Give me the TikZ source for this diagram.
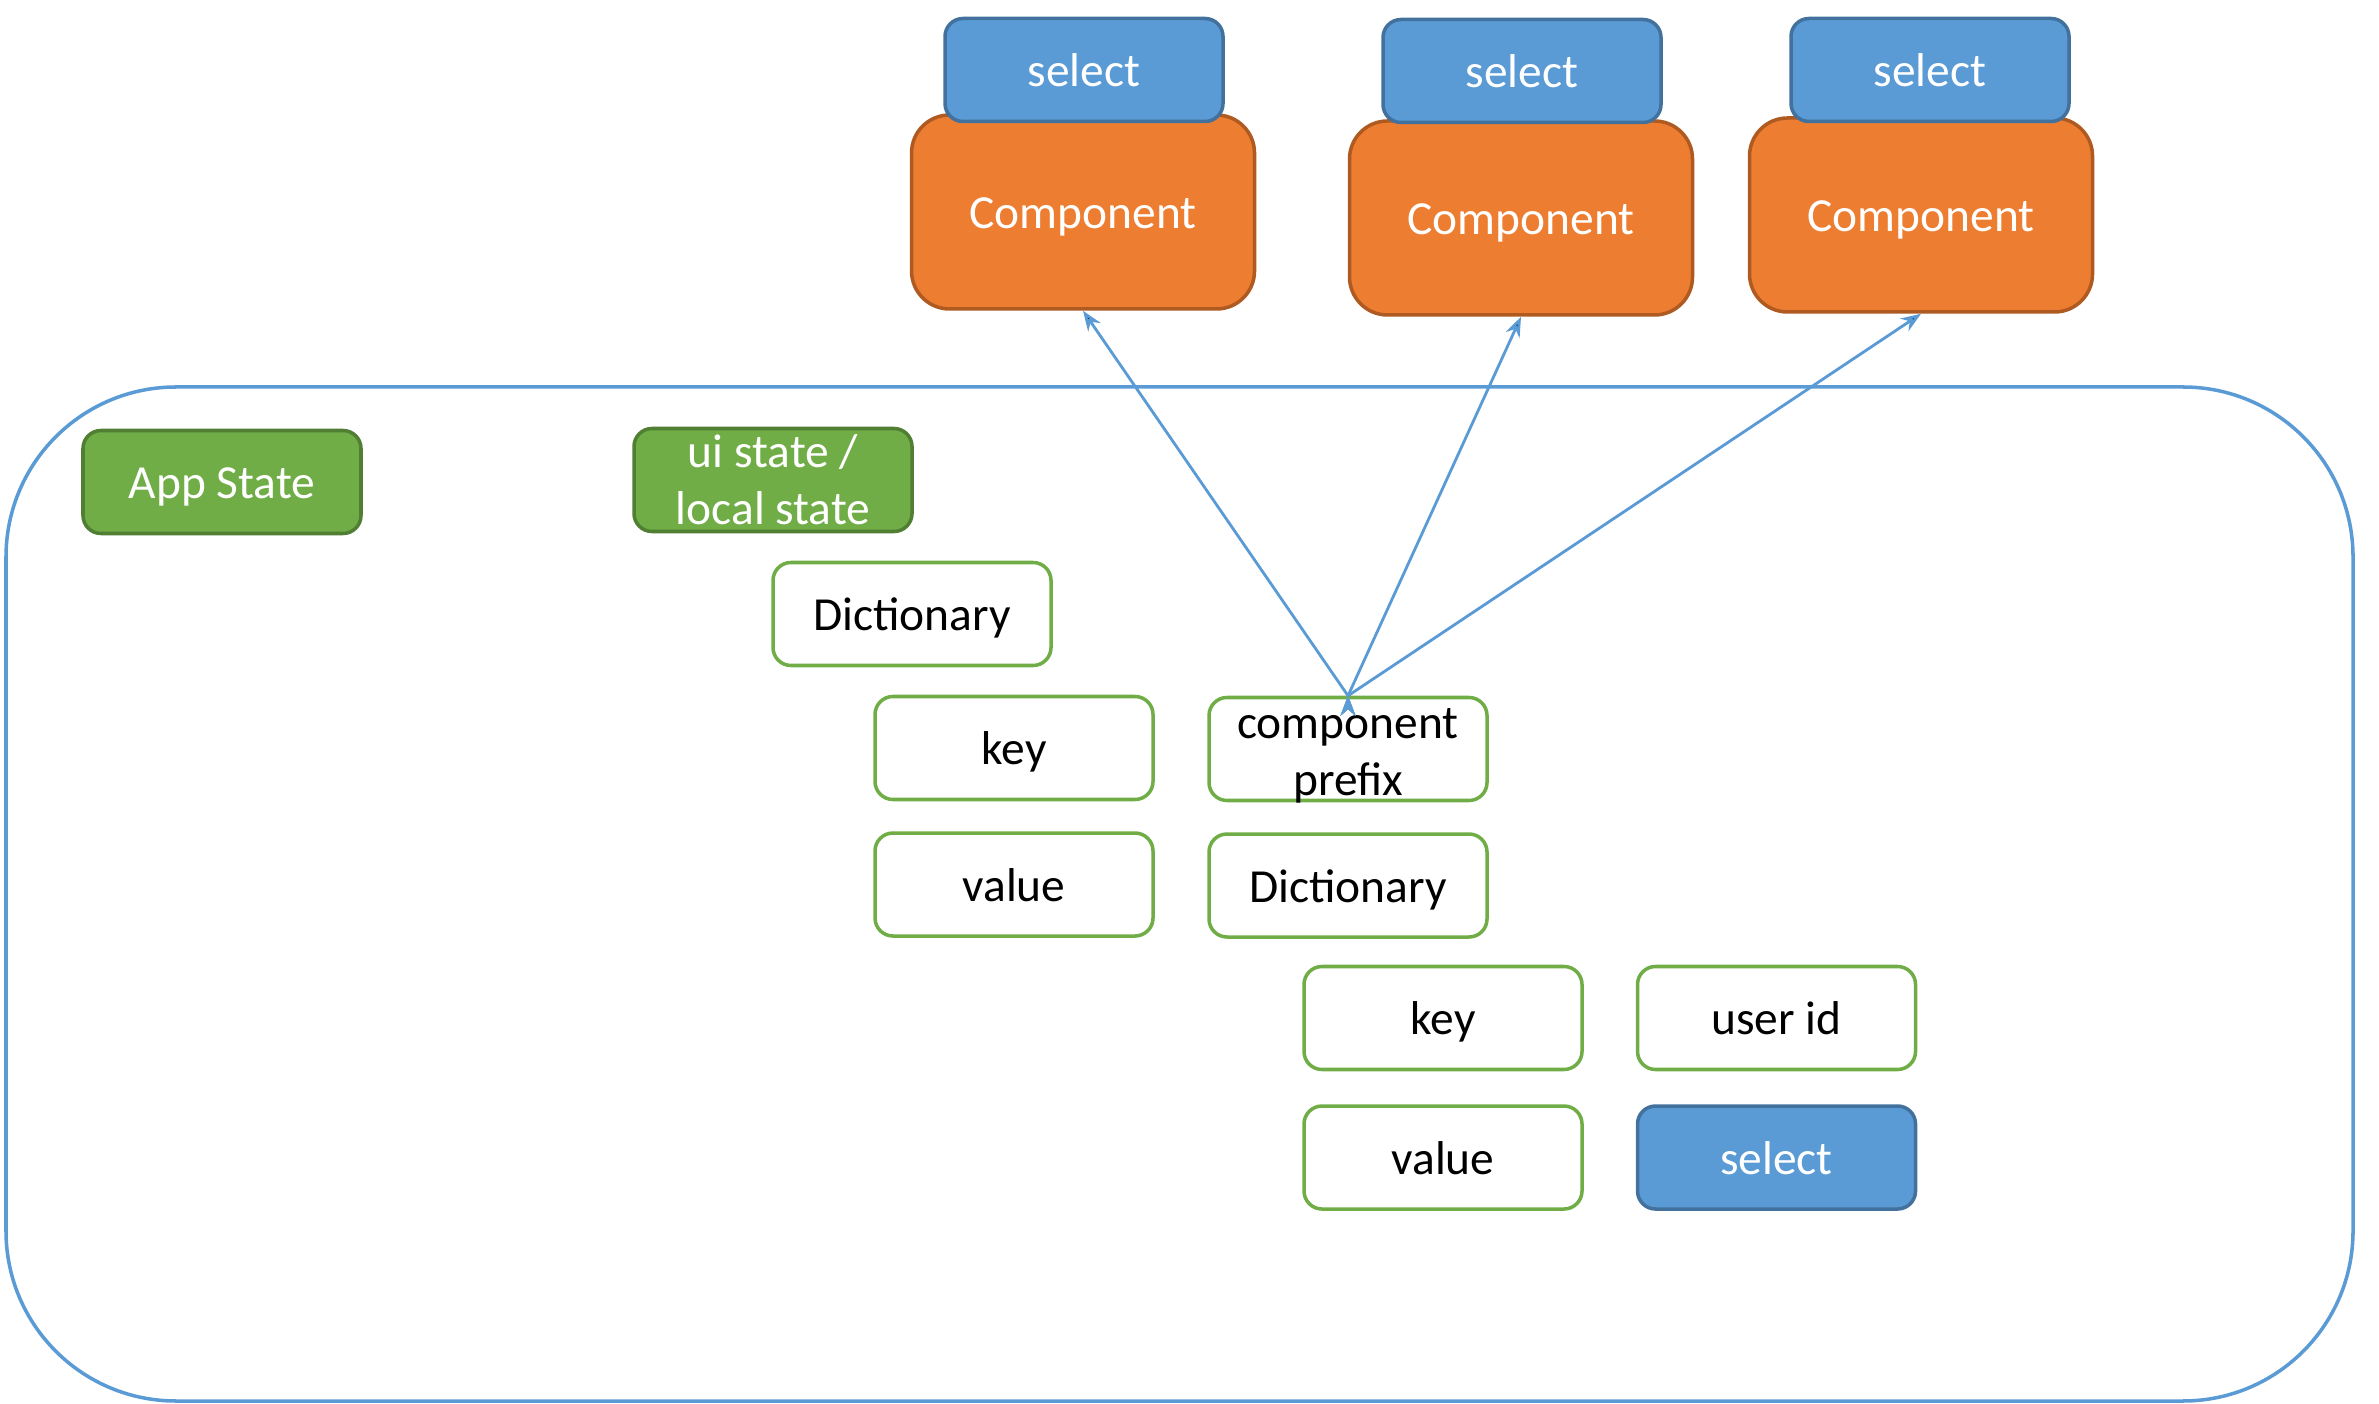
\documentclass[tikz,border=0pt]{standalone}
\usepackage{fontspec}
\setmainfont{Carlito}
\usetikzlibrary{positioning}
\usetikzlibrary{arrows.meta}

\definecolor{selblue}{HTML}{5B9BD5}
\definecolor{selborder}{HTML}{41719C}
\definecolor{comporange}{HTML}{ED7D31}
\definecolor{compborder}{HTML}{AE5A21}
\definecolor{stategreen}{HTML}{70AD47}
\definecolor{stateborder}{HTML}{507E32}

\begin{document}
\begin{tikzpicture}[
    box/.style={rounded corners=0.18cm, minimum width=2.78cm, minimum height=1.03cm, inner sep=0pt,
        line width=1pt, align=center, text height=12.5pt, text depth=3pt,
        font=\fontsize{13.5}{16.2}\selectfont},
    twoline/.style={text height=, text depth=},
    sel/.style={box, fill=selblue, draw=selborder, text=white},
    comp/.style={box, rounded corners=0.38cm, minimum width=3.43cm, minimum height=1.94cm,
        fill=comporange, draw=compborder, text=white},
    state/.style={box, fill=stategreen, draw=stateborder, text=white},
    entry/.style={box, draw=stategreen, fill=white},
    link/.style={draw=selblue, line width=0.8pt, -{Stealth[length=2mm,width=1.5mm]}}
]
%     \draw[help lines](0,-14) grid (24,0);
    \useasboundingbox (0,0) rectangle (23.79,-14.04);

    %%%% Store %%%%

    \draw[selblue, line width=1pt, rounded corners=1.7cm] (0.06,-3.87) rectangle (23.53,-14.01);

    \node[state] (appstate) at (2.22,-4.82) {App State};
    \node[state, twoline] (uistate) at (7.73,-4.80) {ui state /\\ local state};

    %%% ui state dictionary %%%

    \node[entry] (dict1) at (9.12,-6.14) {Dictionary};
    \node[entry] (key1) at (10.14,-7.48) {key};
    \node[entry, below=0.30cm of key1] (value1) {value};

    \node[entry, twoline, inner ysep=-2pt] (prefix) at (13.48,-7.49) {\rule{0pt}{12.5pt}component\\ prefix};
    \node[entry, below=0.30cm of prefix] (dict2) {Dictionary};

    %%% per component dictionary %%%

    \node[entry] (key2) at (14.43,-10.18) {key};
    \node[entry, right=0.52cm of key2] (userid) {user id};
    \node[entry, below=0.33cm of key2] (value2) {value};
    \node[sel, below=0.33cm of userid] (sel4) {select};

    %%% Components %%%

    \node[comp] (comp1) at (10.83,-2.12) {Component};
    \node[sel] (sel1) at (10.84,-0.70) {select};

    \node[comp] (comp2) at (15.21,-2.18) {Component};
    \node[sel] (sel2) at (15.22,-0.71) {select};

    \node[comp] (comp3) at (19.21,-2.15) {Component};
    \node[sel] (sel3) at (19.30,-0.70) {select};

    \path[link] (prefix.north) edge (comp1.south);
    \path[link] (prefix.north) edge (comp2.south);
    \path[link] (prefix.north) edge (comp3.south);

\end{tikzpicture}
\end{document}
